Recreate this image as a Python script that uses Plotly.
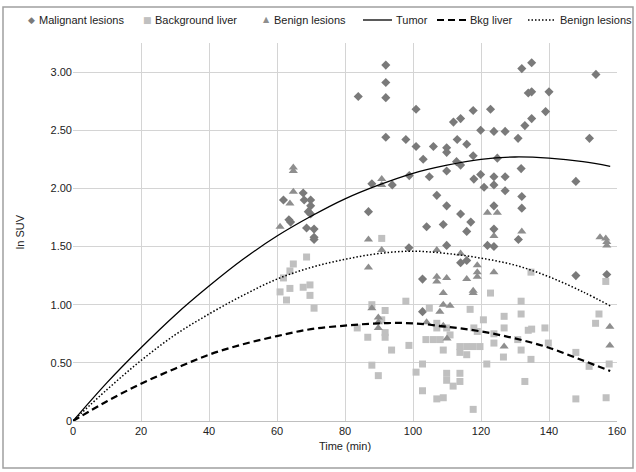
import plotly.graph_objects as go

# ---- data ----
mal_x = [61.9, 63.5, 64.0, 67.7, 68.0, 69.9, 69.9, 69.2, 69.9, 68.7, 70.9, 70.9, 70.9,
         92.0, 92.0, 83.9, 92.0, 100.9, 92.0, 97.9, 100.9, 103.0, 104.8, 98.9, 87.9, 93.9,
         86.9, 104.0, 98.8, 102.8, 102.8,
         132.0, 134.9, 153.8, 117.7, 122.8, 111.9, 114.0, 119.9, 123.8, 127.1, 130.9,
         113.0, 115.8, 106.0, 109.9, 109.9, 117.7, 112.8, 114.0, 124.8, 131.8, 109.9,
         117.9, 119.9, 123.8, 127.1, 120.9, 123.8, 127.1, 107.0, 109.9, 114.0, 123.8,
         117.0, 108.9, 115.8, 123.8, 133.9, 134.9, 140.0, 139.0, 134.9, 132.9, 151.9,
         147.9, 132.0, 132.0, 131.0, 109.9, 121.9, 123.8, 114.0, 115.8, 147.9, 157.0]
mal_y = [1.90, 1.73, 1.71, 1.96, 1.90, 1.90, 1.85, 1.80, 1.78, 1.66, 1.65, 1.58, 1.56,
         3.06, 2.91, 2.79, 2.78, 2.68, 2.44, 2.42, 2.36, 2.25, 2.10, 2.11, 2.04, 2.03,
         1.80, 1.67, 1.49, 1.22, 0.94,
         3.03, 3.08, 2.98, 2.67, 2.68, 2.57, 2.60, 2.50, 2.49, 2.49, 2.43,
         2.42, 2.38, 2.36, 2.35, 2.31, 2.28, 2.23, 2.20, 2.26, 2.17, 2.15,
         2.08, 2.12, 2.10, 2.10, 2.01, 2.03, 1.98, 1.94, 1.85, 1.78, 1.85,
         1.71, 1.69, 1.63, 1.65, 2.82, 2.83, 2.83, 2.66, 2.60, 2.54, 2.43,
         2.06, 1.93, 1.83, 1.56, 1.51, 1.51, 1.50, 1.36, 1.38, 1.25, 1.26]

bkg_x = [68.7, 64.8, 63.8, 61.9, 60.9, 63.8, 67.7, 69.7, 69.7, 62.8, 70.9,
         90.8, 97.9, 87.9, 91.8, 90.8, 91.8, 91.8, 83.6, 86.7, 93.7, 98.8, 103.8, 104.8,
         87.9, 89.8, 102.8, 100.9, 102.8,
         122.8, 116.8, 120.7, 126.8, 126.8, 107.0, 109.9, 110.9, 117.9, 118.9, 123.8,
         123.8, 106.0, 108.0, 113.8, 115.8, 117.7, 119.7, 113.8, 115.8, 108.9, 121.7,
         126.6, 109.9, 113.8, 109.9, 111.8, 113.8, 107.0, 108.9, 117.7, 107.0,
         134.7, 156.7, 131.8, 131.8, 133.9, 134.9, 138.8, 139.8, 130.8, 131.8, 134.7,
         132.9, 147.9, 151.8, 154.7, 153.7, 157.7, 147.9, 156.8]
bkg_y = [1.41, 1.35, 1.29, 1.23, 1.11, 1.14, 1.15, 1.17, 1.08, 1.04, 0.97,
         1.57, 1.03, 1.00, 0.95, 0.87, 0.76, 0.72, 0.80, 0.72, 0.61, 0.65, 0.70, 0.97,
         0.48, 0.39, 0.49, 0.42, 0.26,
         1.10, 0.96, 0.87, 0.90, 0.80, 0.80, 0.80, 0.74, 0.80, 0.77, 0.75,
         0.67, 0.70, 0.70, 0.64, 0.64, 0.64, 0.64, 0.59, 0.57, 0.61, 0.49,
         0.55, 0.41, 0.41, 0.35, 0.30, 0.34, 0.19, 0.20, 0.10, 0.84,
         1.28, 1.20, 1.03, 0.92, 0.78, 0.79, 0.80, 0.67, 0.70, 0.61, 0.53,
         0.34, 0.59, 0.47, 0.92, 0.84, 0.49, 0.19, 0.20]

ben_x = [64.8, 64.8, 64.8, 63.8, 60.9, 90.8, 90.8, 86.9, 90.8, 86.9, 87.9, 89.8, 89.8,
         89.8, 104.0, 121.9, 124.8, 123.8, 132.0, 155.0, 156.7, 157.0, 157.0, 107.0,
         114.0, 118.9, 118.9, 118.9, 123.8, 115.8, 107.0, 107.0, 109.9, 117.7, 117.7,
         108.9, 108.9, 110.9, 107.9, 108.9, 110.0, 126.8, 157.9, 157.9]
ben_y = [2.18, 2.15, 1.97, 1.87, 1.67, 2.08, 2.03, 1.56, 1.47, 1.32, 0.97, 0.89, 0.85,
         0.80, 0.85, 1.79, 1.79, 1.59, 1.63, 1.58, 1.57, 1.54, 1.51, 1.47,
         1.44, 1.34, 1.28, 1.24, 1.28, 1.22, 1.24, 1.20, 1.23, 1.12, 1.10,
         1.10, 1.00, 0.99, 0.94, 0.82, 0.71, 0.64, 0.81, 0.65]

# trend lines
trend_x = [0, 10, 20, 30, 40, 50, 60, 70, 80, 90, 100, 110, 120, 130, 140, 150, 158]
tumor_y = [0, 0.33, 0.63, 0.91, 1.16, 1.39, 1.59, 1.76, 1.91, 2.03, 2.13, 2.20, 2.25, 2.27, 2.26, 2.23, 2.19]
bkg_fit_y = [0, 0.17, 0.32, 0.45, 0.57, 0.66, 0.73, 0.79, 0.82, 0.84, 0.84, 0.81, 0.77, 0.71, 0.63, 0.52, 0.43]
ben_fit_y = [0, 0.27, 0.52, 0.74, 0.92, 1.08, 1.22, 1.32, 1.39, 1.44, 1.46, 1.44, 1.40, 1.34, 1.24, 1.11, 0.99]

y_tickvals = [0, 0.5, 1.0, 1.5, 2.0, 2.5, 3.0]
y_ticktext = ["0", "0.50", "1.00", "1.50", "2.00", "2.50", "3.00"]
x_tickvals = [0, 20, 40, 60, 80, 100, 120, 140, 160]

legend_labels = ["Malignant lesions", "Background liver", "Benign lesions",
                 "Tumor", "Bkg liver", "Benign lesions"]

FONT = "Liberation Sans, Arial, sans-serif"
C_MAL, C_BKG, C_BEN = "#7a7a7a", "#c0c0c0", "#8e8e8e"
DASH_BKG = "7px,4px"
DASH_BEN = "1.5px,2px"

W, H = 636, 472
ML, MR, MT, MB = 73, 19, 43, 51
PW, PH = W - ML - MR, H - MT - MB


def px_x(px):
    return (px - ML) / PW


def px_y(py):
    return (H - MB - py) / PH


fig = go.Figure()
fig.add_trace(go.Scatter(x=mal_x, y=mal_y, mode="markers", name=legend_labels[0],
                         marker=dict(symbol="diamond", size=7, color=C_MAL)))
fig.add_trace(go.Scatter(x=bkg_x, y=bkg_y, mode="markers", name=legend_labels[1],
                         marker=dict(symbol="square", size=7, color=C_BKG)))
fig.add_trace(go.Scatter(x=ben_x, y=ben_y, mode="markers", name=legend_labels[2],
                         marker=dict(symbol="triangle-up", size=8, color=C_BEN)))
fig.add_trace(go.Scatter(x=trend_x, y=tumor_y, mode="lines", name=legend_labels[3], line_shape="spline",
                         line=dict(color="black", width=1.3)))
fig.add_trace(go.Scatter(x=trend_x, y=bkg_fit_y, mode="lines", name=legend_labels[4], line_shape="spline",
                         line=dict(color="black", width=2.2, dash=DASH_BKG)))
fig.add_trace(go.Scatter(x=trend_x, y=ben_fit_y, mode="lines", name=legend_labels[5], line_shape="spline",
                         line=dict(color="black", width=1.5, dash=DASH_BEN)))

fig.update_layout(
    width=W, height=H,
    margin=dict(l=ML, r=MR, t=MT, b=MB, autoexpand=False),
    paper_bgcolor="white", plot_bgcolor="white",
    font=dict(family=FONT, size=11, color="#222"),
    showlegend=False,
    xaxis=dict(range=[0, 160], tickvals=x_tickvals, showgrid=True, gridcolor="#d4d4d4",
               gridwidth=1, zeroline=False, showline=True, linecolor="#bfbfbf",
               ticks="", tickfont=dict(size=11, color="#222"), automargin=False,
               title=dict(text="Time (min)", font=dict(size=11, color="#222"), standoff=6)),
    yaxis=dict(range=[0, 3.25], tickvals=y_tickvals, ticktext=y_ticktext, showgrid=True,
               gridcolor="#d4d4d4", gridwidth=1, zeroline=False, showline=False,
               ticks="", tickfont=dict(size=11, color="#222"), automargin=False,
               title=dict(text="ln SUV", font=dict(size=11, color="#222"), standoff=23)),
)

# ---- legend row drawn at the top, like the original ----
LEG_Y = px_y(20)
marker_items = [("◆", C_MAL, 31, 37, 9), ("■", C_BKG, 147, 153, 9), ("▲", C_BEN, 266, 272, 8)]
for i, (sym, col, sx, tx, fs) in enumerate(marker_items):
    fig.add_annotation(x=px_x(sx), y=LEG_Y, xref="paper", yref="paper", text=sym,
                       showarrow=False, xanchor="center", yanchor="middle",
                       font=dict(size=fs, color=col, family="DejaVu Sans"))
    fig.add_annotation(x=px_x(tx), y=LEG_Y, xref="paper", yref="paper", text=legend_labels[i],
                       showarrow=False, xanchor="left", yanchor="middle",
                       font=dict(size=11, color="#222", family=FONT))

line_items = [(363, 392, None, 1.3), (437, 466, DASH_BKG, 2.2), (528, 556, DASH_BEN, 1.5)]
for j, (x0, x1, dash, wd) in enumerate(line_items):
    fig.add_shape(type="line", xref="paper", yref="paper", x0=px_x(x0), x1=px_x(x1),
                  y0=LEG_Y, y1=LEG_Y, line=dict(color="black", width=wd, dash=dash))
    fig.add_annotation(x=px_x(x1 + 2), y=LEG_Y, xref="paper", yref="paper",
                       text=legend_labels[3 + j], showarrow=False, xanchor="left",
                       yanchor="middle", font=dict(size=11, color="#222", family=FONT))

# outer chart border
fig.add_shape(type="rect", xref="paper", yref="paper",
              x0=px_x(3), x1=px_x(633), y0=px_y(468), y1=px_y(7),
              line=dict(color="#a0a0a0", width=1.5), fillcolor="rgba(0,0,0,0)", layer="below")

fig.write_html("out.html", config={"displayModeBar": False},
               post_script="document.body.style.margin='0';document.body.style.padding='0';"
                           "document.body.style.overflow='hidden';")
